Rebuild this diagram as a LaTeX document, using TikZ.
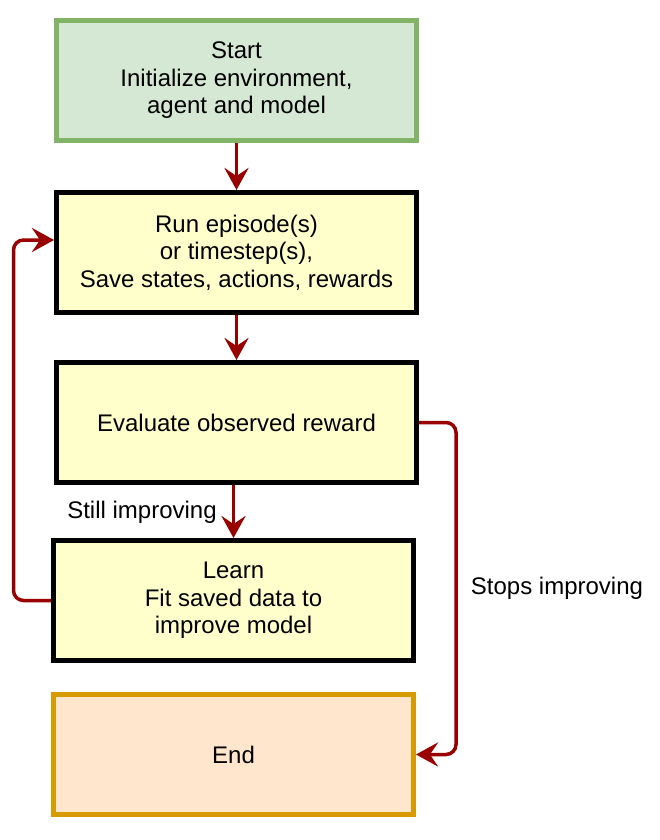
\documentclass[tikz,border=0pt]{standalone}
\usepackage{fontspec}
\setmainfont{Liberation Sans}
\usetikzlibrary{arrows.meta}

\definecolor{startfill}{HTML}{D5E8D4}
\definecolor{startline}{HTML}{82B366}
\definecolor{stepfill}{HTML}{FFFFCC}
\definecolor{endfill}{HTML}{FFE6CC}
\definecolor{endline}{HTML}{D79B00}
\definecolor{arrowred}{HTML}{990000}

\tikzset{
  box/.style={draw, line width=5pt, minimum width=360pt, minimum height=120pt,
    align=center, font=\fontsize{24}{27.5}\selectfont},
  stepbox/.style={box, fill=stepfill, draw=black},
  flow/.style={draw=arrowred, line width=3.5pt, rounded corners=10pt,
    -{Stealth[length=22pt,width=24pt,inset=8pt]}},
  lbl/.style={font=\fontsize{24}{27.5}\selectfont}
}

\begin{document}
\begin{tikzpicture}[x=1pt,y=-1pt]
        \useasboundingbox (0,0) rectangle (660,840);

        \node[box, fill=startfill, draw=startline] (start) at (236.5,80.5)
            {Start\\Initialize environment,\\agent and model};
        \node[stepbox] (run) at (236.5,252.5)
            {Run episode(s)\\or timestep(s),\\Save states, actions, rewards};
        \node[stepbox] (eval) at (236.5,422.5) {Evaluate observed reward};
        \node[stepbox] (learn) at (233.5,600.5)
            {Learn\\Fit saved data to\\improve model};
        \node[box, fill=endfill, draw=endline] (end) at (233.5,754.5) {End};

        \node[lbl] (still) at (142,512) {Still improving};
        \node[lbl] (stops) at (557,588) {Stops improving};

        \draw[flow] (start) -- (run);
        \draw[flow] (run) -- (eval);
        \draw[flow] (learn.north |- eval.south) -- (learn.north);
        \draw[flow] (learn.west) -- ++(-37.5,0) |- ([yshift=12.5pt]run.west);
        \draw[flow] (eval.east) -- ++(37,0) |- (end.east);
    \end{tikzpicture}
\end{document}
